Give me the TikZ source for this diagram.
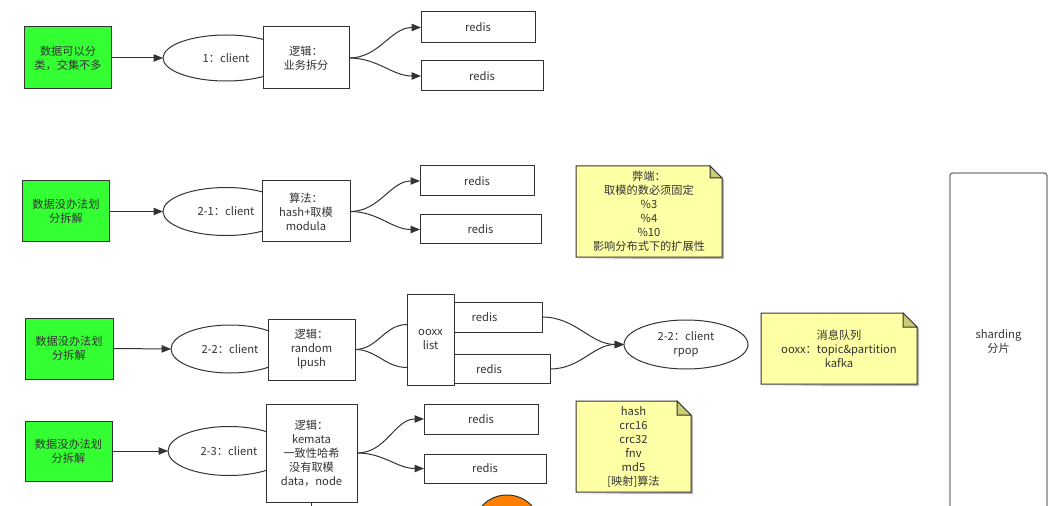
\documentclass[tikz,border=0pt]{standalone}
\usepackage{fontspec}
\setmainfont{Noto Sans CJK SC}
\usetikzlibrary{arrows.meta,shapes.geometric,calc,backgrounds}
\definecolor{lc}{HTML}{333333}
\definecolor{tc}{HTML}{333333}
\definecolor{gfill}{HTML}{33FF33}
\definecolor{nfill}{HTML}{FFFFA5}
\definecolor{nfold}{HTML}{CCCC70}
\definecolor{oc}{HTML}{FF8000}
\definecolor{shc}{HTML}{7A7A7A}
\begin{document}
\begin{tikzpicture}[x=0.75pt,y=-0.75pt,
  font=\fontsize{8.4pt}{10.5pt}\selectfont, text=tc,
  sz/.style 2 args={minimum width=#1*0.75pt, minimum height=#2*0.75pt},
  base/.style={inner sep=0pt, outer sep=0pt, align=center, line width=0.75pt},
  gbox/.style={base, rectangle, draw=lc, fill=gfill},
  wbox/.style={base, rectangle, draw=lc, fill=white},
  oval/.style={base, ellipse, draw=lc, fill=white},
  notetext/.style={base, rectangle},
  notepath/.style={draw=lc, fill=nfill, line width=0.75pt, line join=miter},
  foldpath/.style={draw=lc, fill=nfold, line width=0.75pt},
  conn/.style={draw=lc, line width=0.75pt, -{Triangle[length=7pt,width=5.5pt]}},
  plain/.style={draw=lc, line width=0.75pt},
  shard/.style={base, rectangle, draw=shc, fill=white, rounded corners=2pt, line width=1pt}
]
\useasboundingbox (0,0) rectangle (1057,506);
\clip (0,0) rectangle (1057,506);

% ---------- row 1
\node[gbox, sz={87}{62}] (g1) at (68,58) {数据可以分\\类，交集不多};
\node[oval, sz={126}{46}] (e1) at (226,58) {};
\node[wbox, sz={86}{62}] (b1) at (306,58) {逻辑：\\业务拆分};
\node at (226,58) (e1t) {1：client};
\node[wbox, sz={114}{31}] (r11) at (478,27.5) {redis};
\node[wbox, sz={122}{30}] (r12) at (482,76) {redis};
\draw[conn] (g1.east) -- (e1.west);
\draw[conn] (b1.east) to[out=0,in=180] (r11.west);
\draw[conn] (b1.east) to[out=0,in=180] (r12.west);

% ---------- row 2
\node[gbox, sz={87}{61}] (g2) at (66,211.5) {数据没办法划\\分拆解};
\node[oval, sz={126}{48}] (e2) at (226,211.5) {};
\node[wbox, sz={88}{61}] (b2) at (306,211.5) {算法：\\hash+取模\\modula};
\node at (226,211.5) (e2t) {2-1：client};
\node[wbox, sz={114}{30}] (r21) at (477,181) {redis};
\node[wbox, sz={121}{29}] (r22) at (480.5,229.5) {redis};
\draw[conn] (g2.east) -- (e2.west);
\draw[conn] (b2.east) to[out=0,in=180] (r21.west);
\draw[conn] (b2.east) to[out=0,in=180] (r22.west);
\node[notetext, sz={146}{91}] (n1) at (649,211.5) {弊端：\\取模的数必须固定\\\%3\\\%4\\\%10\\影响分布式下的扩展性};

% ---------- row 3
\node[gbox, sz={88}{61}] (g3) at (69,348.5) {数据没办法划\\分拆解};
\node[oval, sz={118}{48}] (e3) at (230,349) {};
\node[wbox, sz={87}{61}] (b3) at (311.5,349.5) {逻辑：\\random\\lpush};
\node at (230,349) (e3t) {2-2：client};
\node[wbox, sz={115}{30}] (r31) at (484.5,317) {redis};
\node[wbox, sz={122}{29}] (r32) at (489,369) {redis};
\node[wbox, sz={47}{91}] (ox) at (430.5,339.5) {ooxx\\list};
\draw[conn] (g3.east) -- (e3.west);
\draw[plain] (b3.east) to[out=0,in=180] ($(ox.west)+(0,-15)$);
\draw[plain] (b3.east) to[out=0,in=180] ($(ox.west)+(0,28)$);
\node[oval, sz={124}{49}] (rp) at (686,344.5) {2-2：client\\rpop};
\draw[conn] (r31.east) to[out=0,in=180] (rp.west);
\draw[conn] (r32.east) to[out=0,in=180] (rp.west);
\node[notetext, sz={156}{71}] (n2) at (839,348.5) {消息队列\\ooxx：topic\&partition\\kafka};

% ---------- row 4
\node[gbox, sz={87}{60}] (g4) at (68.5,451) {数据没办法划\\分拆解};
\node[oval, sz={122}{49}] (e4) at (229,451) {};
\node[wbox, sz={91}{98}] (b4) at (311.5,453) {逻辑：\\kemata\\一致性哈希\\没有取模\\data，node};
\node at (229,451) (e4t) {2-3：client};
\node[wbox, sz={114}{30}] (r41) at (481,419) {redis};
\node[wbox, sz={122}{29}] (r42) at (485,468.5) {redis};
\draw[conn] (g4.east) -- (e4.west);
\draw[conn] (b4.east) to[out=0,in=180] (r41.west);
\draw[conn] (b4.east) to[out=0,in=180] (r42.west);
\node[notetext, sz={115}{91}] (n3) at (633.5,446.5) {hash\\crc16\\crc32\\fnv\\md5\\{[}映射{]}算法};
\coordinate (vb) at (311.5,512);
\draw[plain] (b4.south) -- (vb);
\node[base, circle, draw=lc, fill=oc, minimum size=68*0.75pt] (orc) at (507,529) {};

% ---------- sharding
\node[shard, sz={97}{338}] (sh) at (998.5,342) {sharding\\分片};

% ---------- note shapes
\begin{scope}[on background layer]
\foreach \n/\f in {n1/12,n2/14,n3/14}{
  \fill[lc!35] ($(\n.south west)+(2,2)$) -- ($(\n.south east)+(2,2)$) -- ($(\n.north east)+(2,\f+2)$) -- ($(\n.north east)+(0,\f)$) -- (\n.south east) -- cycle;
  \draw[notepath] (\n.south west) -- (\n.north west) -- ($(\n.north east)+(-\f,0)$) -- ($(\n.north east)+(0,\f)$) -- (\n.south east) -- cycle;
  \draw[foldpath] ($(\n.north east)+(-\f,0)$) -- ($(\n.north east)+(-\f,\f)$) -- ($(\n.north east)+(0,\f)$) -- cycle;
}
\end{scope}
\end{tikzpicture}
\end{document}
